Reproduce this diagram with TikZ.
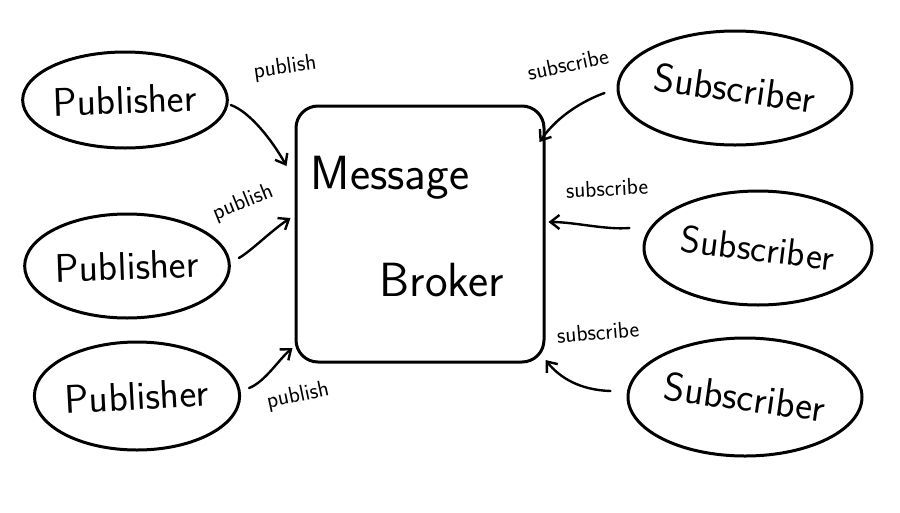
\documentclass[tikz,border=0pt]{standalone}
\usepackage{fontspec}
\usetikzlibrary{shapes.geometric,arrows.meta}
\begin{document}
\begin{tikzpicture}[x=1pt,y=-1pt,
  blob/.style={ellipse, draw, line width=3pt, inner sep=0pt, font=\sffamily\fontsize{40}{46}\selectfont},
  lbl/.style={font=\sffamily\fontsize{23}{26}\selectfont, inner sep=1pt},
  big/.style={font=\sffamily\fontsize{48}{54}\selectfont},
  arr/.style={line width=2.4pt, line cap=round, -{Straight Barb[length=9pt,width=14pt]}}]
\useasboundingbox (0,0) rectangle (900,512);
\fill[white] (0,0) rectangle (900,512);
% publishers
\node[blob, minimum width=194pt, minimum height=96pt] (p1) at (125,100) {\rotatebox{2}{Publisher}};
\node[blob, minimum width=188pt, minimum height=104pt] (p2) at (127,266) {\rotatebox{2}{Publisher}};
\node[blob, minimum width=202pt, minimum height=108pt] (p3) at (137,396) {\rotatebox{3}{Publisher}};
% broker
\node[draw, rounded corners=22pt, line width=3pt, minimum width=248pt, minimum height=256pt] (mb) at (420,234) {};
\node[big] (msg) at (390,178) {Message};
\node[big] (brk) at (442,280) {Broker};
% subscribers
\node[blob, minimum width=234pt, minimum height=114pt] (s1) at (735,88) {\rotatebox{-8}{Subscriber}};
\node[blob, minimum width=228pt, minimum height=114pt] (s2) at (758,248) {\rotatebox{-7}{\fontsize{38}{44}\selectfont Subscriber}};
\node[blob, minimum width=234pt, minimum height=118pt] (s3) at (745,397) {\rotatebox{-8}{Subscriber}};
% arrows
\draw[arr] ([shift={(2,5)}]p1.east) .. controls (250,112) and (272,140) .. ([shift={(-8,-68)}]mb.west);
\draw[arr] ([shift={(8,-8)}]p2.east) .. controls (250,252) and (272,230) .. ([shift={(-4,-16)}]mb.west);
\draw[arr] ([shift={(8,-8)}]p3.east) .. controls (265,382) and (280,358) .. ([shift={(-2,114)}]mb.west);
\draw[arr] ([shift={(-12,5)}]s1.west) .. controls (585,100) and (558,115) .. ([shift={(-6,-92)}]mb.east);
\draw[arr] ([shift={(-13,-20)}]s2.west) .. controls (605,230) and (575,222) .. ([shift={(3,-12)}]mb.east);
\draw[arr] ([shift={(-16,-6)}]s3.west) .. controls (580,390) and (560,378) .. ([shift={(0,126)}]mb.east);
% labels
\node[lbl, rotate=8] (l1) at (285,68) {publish};
\node[lbl, rotate=22] (l2) at (243,203) {publish};
\node[lbl, rotate=12] (l3) at (298,396) {publish};
\node[lbl, rotate=12] (l4) at (568,64) {subscribe};
\node[lbl, rotate=3] (l5) at (607,188) {subscribe};
\node[lbl, rotate=5] (l6) at (598,332) {subscribe};
\end{tikzpicture}
\end{document}
